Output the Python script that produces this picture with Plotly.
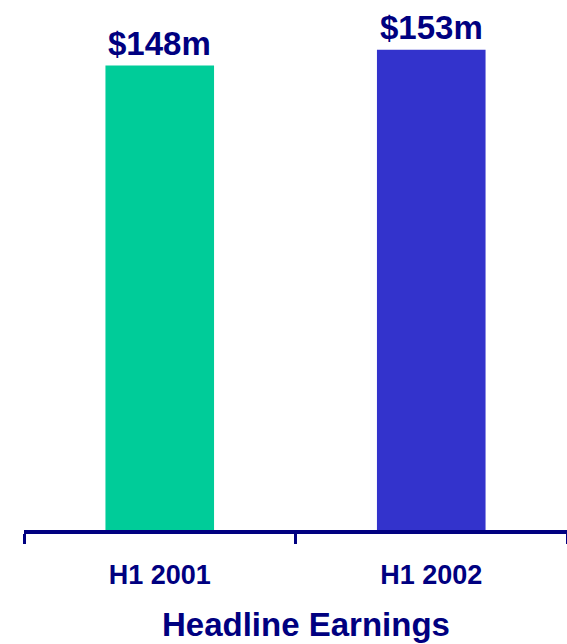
import plotly.graph_objects as go

# Half-year headline earnings, $m
periods = ["H1 2001", "H1 2002"]
earnings = [148, 153]
bar_colors = ["#00CC99", "#3333CC"]
value_labels = ["$148m", "$153m"]

NAVY = "#000080"
FONT = "Liberation Sans, Arial, sans-serif"

fig = go.Figure(
    go.Bar(
        x=periods,
        y=earnings,
        marker=dict(color=bar_colors, line=dict(width=0)),
        width=0.4,
        hoverinfo="skip",
    )
)

# value labels above each bar
for p, v, t in zip(periods, earnings, value_labels):
    fig.add_annotation(
        x=p, y=v, xref="x", yref="y", text=f"<b>{t}</b>",
        showarrow=False, yanchor="bottom", yshift=2,
        font=dict(family=FONT, size=33, color=NAVY),
    )

fig.add_annotation(
    x=0.52, y=-0.186, xref="paper", yref="paper",
    text="<b>Headline Earnings</b>", showarrow=False,
    xanchor="center", yanchor="middle",
    font=dict(family=FONT, size=33, color=NAVY),
)

fig.update_layout(
    width=567, height=644,
    margin=dict(l=24, r=0, t=20, b=114),
    paper_bgcolor="white", plot_bgcolor="white",
    showlegend=False,
)
fig.update_xaxes(
    type="category",
    tickmode="array", tickvals=periods, ticktext=[f"<b>{p}</b>" for p in periods],
    showline=True, linecolor=NAVY, linewidth=4,
    ticks="outside", tickson="boundaries", ticklen=10, tickwidth=3, tickcolor=NAVY,
    tickfont=dict(family=FONT, size=27, color=NAVY),
    ticklabelstandoff=18,
    showgrid=False, zeroline=False,
)
fig.update_yaxes(visible=False, range=[0, 162.5])

fig.write_html("out.html")
